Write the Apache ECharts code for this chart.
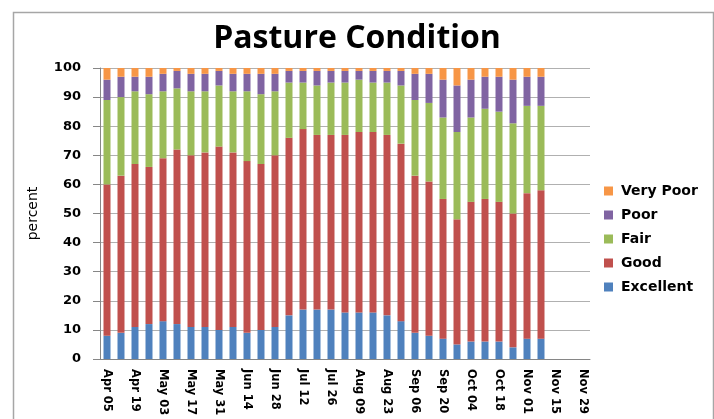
<!DOCTYPE html>
<html>
<head>
<meta charset="utf-8">
<script src="https://cdn.jsdelivr.net/npm/echarts@6/dist/echarts.min.js"></script>
<style>html,body{margin:0;padding:0;background:#fff}#c{width:714px;height:419px}</style>
</head>
<body>
<div id="c"></div>
<script>
const weeks = ['Apr 05','Apr 12','Apr 19','Apr 26','May 03','May 10','May 17','May 24','May 31','Jun 07','Jun 14','Jun 21','Jun 28','Jul 05','Jul 12','Jul 19','Jul 26','Aug 02','Aug 09','Aug 16','Aug 23','Aug 30','Sep 06','Sep 13','Sep 20','Sep 27','Oct 04','Oct 11','Oct 18','Oct 25','Nov 01','Nov 08','Nov 15','Nov 22','Nov 29'];
const excellent = [8,9,11,12,13,12,11,11,10,11,9,10,11,15,17,17,17,16,16,16,15,13,9,8,7,5,6,6,6,4,7,7];
const good      = [52,54,56,54,56,60,59,60,63,60,59,57,59,61,62,60,60,61,62,62,62,61,54,53,48,43,48,49,48,46,50,51];
const fair      = [29,27,25,25,23,21,22,21,21,21,24,24,22,19,16,17,18,18,18,17,18,20,26,27,28,30,29,31,31,31,30,29];
const poor      = [7,7,5,6,6,6,6,6,5,6,6,7,6,4,4,5,4,4,3,4,4,5,9,10,13,16,13,11,12,15,10,10];
const veryPoor  = [4,3,3,3,2,1,2,2,1,2,2,2,2,1,1,1,1,1,1,1,1,1,2,2,4,6,4,3,3,4,3,3];
const yTicks = [0,10,20,30,40,50,60,70,80,90,100];

const LBL = 'DejaVu Sans';
const chart = echarts.init(document.getElementById('c'));
const mk = (name, data, color) => ({
  name, type: 'bar', stack: 'total', data, barWidth: 7,
  itemStyle: { color }, emphasis: { disabled: true }
});
chart.setOption({
  animation: false,
  textStyle: { fontFamily: LBL },
  graphic: [{
    type: 'rect', left: 11, top: 10, shape: { width: 700, height: 430 },
    style: { fill: 'none', stroke: '#a6a6a6', lineWidth: 1.5 }, silent: true
  }],
  title: {
    text: 'Pasture Condition', left: 'center', top: 18,
    textStyle: { fontFamily: 'Open Sans', fontWeight: 'bold', fontSize: 32, color: '#000' }
  },
  legend: {
    orient: 'vertical', left: 599, top: 179, itemWidth: 9, itemHeight: 9, itemGap: 10,
    icon: 'rect',
    data: ['Very Poor', 'Poor', 'Fair', 'Good', 'Excellent'],
    textStyle: { fontFamily: LBL, fontWeight: 'bold', fontSize: 14, color: '#000', padding: [0, 0, 0, 3] }
  },
  grid: { left: 100, right: 124, top: 68, bottom: 60, containLabel: false },
  xAxis: {
    type: 'category', data: weeks,
    axisLine: { lineStyle: { color: '#868686' } },
    axisTick: { interval: 1, length: 5, lineStyle: { color: '#868686' } },
    axisLabel: { interval: 1, rotate: -90, margin: 10, fontFamily: LBL, fontWeight: 'bold', fontSize: 11.5, color: '#000' }
  },
  yAxis: {
    type: 'value', min: 0, max: 100, interval: 10,
    name: 'percent', nameLocation: 'middle', nameGap: 60, nameRotate: 90,
    nameTextStyle: { fontFamily: LBL, fontSize: 14, color: '#000' },
    axisLine: { show: true, lineStyle: { color: '#868686' } },
    axisTick: { show: true, length: 7, lineStyle: { color: '#868686' } },
    splitLine: { lineStyle: { color: '#b0b0b0' } },
    axisLabel: {
      margin: 19, fontFamily: LBL, fontWeight: 'bold', fontSize: 13, color: '#000',
      formatter: v => yTicks.includes(v) ? String(v) : ''
    }
  },
  series: [
    mk('Excellent', excellent, '#4f81bd'),
    mk('Good', good, '#c0504d'),
    mk('Fair', fair, '#9bbb59'),
    mk('Poor', poor, '#8064a2'),
    mk('Very Poor', veryPoor, '#f79646')
  ]
});
</script>
</body>
</html>
